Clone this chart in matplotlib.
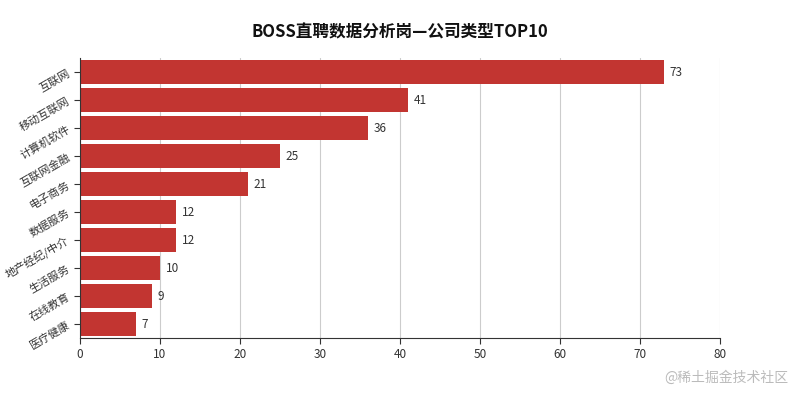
import matplotlib
matplotlib.use('Agg')
import matplotlib.pyplot as plt

plt.rcParams['font.family'] = ['Noto Sans CJK SC', 'DejaVu Sans']

categories = ['互联网', '移动互联网', '计算机软件', '互联网金融', '电子商务',
              '数据服务', '地产经纪/中介', '生活服务', '在线教育', '医疗健康']
counts = [73, 41, 36, 25, 21, 12, 12, 10, 9, 7]
title = 'BOSS直聘数据分析岗—公司类型TOP10'

fig = plt.figure(figsize=(8, 4), dpi=100)
ax = fig.add_axes([0.1, 0.155, 0.8, 0.7])

pos = list(range(len(categories)))[::-1]
ax.barh(pos, counts, height=0.85, color='#c23531')
for p, v in zip(pos, counts):
    ax.text(v + 0.7, p, str(v), va='center', ha='left', fontsize=8.5, color='#333333')

ax.set_xlim(0, 80)
ax.set_ylim(-0.5, len(categories) - 0.5)
ax.set_xticks(range(0, 81, 10))
ax.set_yticks(pos)
ax.set_yticklabels(categories, rotation=30, fontsize=8, color='#333333')
ax.tick_params(axis='x', labelsize=8.5, colors='#333333', length=4)
ax.tick_params(axis='y', length=4, pad=2, colors='#333333')
ax.xaxis.grid(True, color='#cccccc', linewidth=0.8)
ax.set_axisbelow(True)
for s in ['top', 'right']:
    ax.spines[s].set_visible(False)
ax.spines['left'].set_color('#333333')
ax.spines['bottom'].set_color('#333333')

fig.text(0.5, 0.92, title, ha='center', va='center', fontsize=12, fontweight='bold', color='#111111')
fig.text(0.985, 0.055, '@稀土掘金技术社区', ha='right', va='center', fontsize=10, color='#bbbbbb')

fig.savefig('out.png', dpi=100, facecolor='white')
